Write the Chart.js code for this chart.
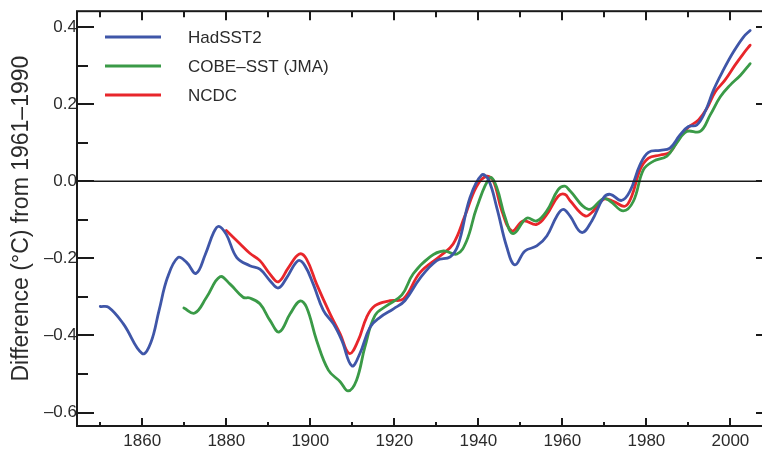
<!DOCTYPE html>
<html>
<head>
<meta charset="utf-8">
<script src="https://cdn.jsdelivr.net/npm/chart.js@4"></script>
<style>
  html, body { margin: 0; padding: 0; background: #fff; overflow: hidden; }
  #wrap { width: 775px; height: 450px; position: relative; }
</style>
</head>
<body>
<div id="wrap"><canvas id="c" width="775" height="450"></canvas></div>
<script>
// ---- Data ----
const seriesNames = ["HadSST2", "COBE\u2013SST (JMA)", "NCDC"];

const hadYears = [1850, 1852, 1855.5, 1860, 1862, 1864, 1866, 1868.5, 1870.5, 1872.8, 1875, 1877, 1878.2, 1880, 1882.5, 1885.6, 1888, 1890.4, 1892.4, 1894.4, 1897.1, 1898.7, 1900.7, 1903.1, 1905.5, 1907.5, 1909.9, 1911.8, 1914.2, 1916.6, 1919.8, 1922.5, 1926.1, 1930.1, 1933.3, 1935.2, 1938, 1940.8, 1942.4, 1944.4, 1946.8, 1948.7, 1951.1, 1953.9, 1956.3, 1958.7, 1960.2, 1961.8, 1964.6, 1967, 1969.8, 1971.4, 1974.1, 1976.1, 1978.5, 1980.5, 1983.3, 1985.6, 1988, 1990, 1992, 1994, 1996, 1998.3, 2000.7, 2003.1, 2004.7];
const hadValues = [-0.325, -0.327, -0.37, -0.447, -0.42, -0.335, -0.25, -0.198, -0.21, -0.239, -0.19, -0.133, -0.117, -0.138, -0.198, -0.219, -0.228, -0.258, -0.277, -0.25, -0.206, -0.219, -0.267, -0.335, -0.37, -0.413, -0.479, -0.447, -0.379, -0.353, -0.331, -0.31, -0.252, -0.206, -0.196, -0.165, -0.043, 0.016, 0.004, -0.069, -0.172, -0.217, -0.181, -0.168, -0.142, -0.09, -0.073, -0.09, -0.133, -0.103, -0.043, -0.034, -0.05, -0.026, 0.043, 0.075, 0.08, 0.086, 0.12, 0.142, 0.146, 0.181, 0.237, 0.288, 0.335, 0.374, 0.391];

const cobeYears = [1869.9, 1872.5, 1875.3, 1878.5, 1880.9, 1884, 1885.6, 1888, 1890.4, 1892.6, 1895.2, 1897.5, 1899.1, 1901.5, 1904.3, 1907.1, 1909, 1911, 1913, 1915.4, 1918.2, 1921.8, 1924.5, 1928.5, 1931.7, 1934.9, 1937.2, 1939.6, 1942.8, 1944.4, 1946.4, 1948.3, 1951.5, 1953.9, 1956.3, 1959, 1960.6, 1961.8, 1966.2, 1969.8, 1971.4, 1974.5, 1976.9, 1979.3, 1981.7, 1984.9, 1987.2, 1989.6, 1992.8, 1995.2, 1997.6, 2000, 2002.4, 2004.7];
const cobeValues = [-0.329, -0.342, -0.301, -0.248, -0.267, -0.301, -0.303, -0.318, -0.361, -0.391, -0.344, -0.311, -0.327, -0.413, -0.49, -0.52, -0.544, -0.516, -0.43, -0.348, -0.323, -0.295, -0.24, -0.196, -0.181, -0.189, -0.155, -0.069, 0.009, -0.017, -0.095, -0.136, -0.096, -0.103, -0.077, -0.022, -0.013, -0.025, -0.073, -0.045, -0.052, -0.077, -0.052, 0.03, 0.052, 0.065, 0.099, 0.129, 0.129, 0.172, 0.219, 0.25, 0.275, 0.305];

const ncdcYears = [1880, 1883.3, 1885.6, 1888, 1890.4, 1892.4, 1894.8, 1897.4, 1899.1, 1901.5, 1904.7, 1907.1, 1909.3, 1911.4, 1913.4, 1915.4, 1919, 1922.2, 1926.1, 1930.9, 1934, 1936.8, 1939.6, 1942, 1943.6, 1945.6, 1948, 1950.7, 1953.9, 1956.3, 1959, 1960.6, 1961.8, 1965.4, 1967.4, 1969.8, 1972.1, 1974.9, 1976.5, 1978.5, 1980.5, 1983.3, 1985.6, 1988, 1990, 1992.4, 1994.4, 1996.4, 1998.7, 2001.1, 2003.1, 2004.7];
const ncdcValues = [-0.128, -0.163, -0.187, -0.206, -0.241, -0.261, -0.224, -0.189, -0.202, -0.267, -0.344, -0.396, -0.447, -0.413, -0.353, -0.323, -0.31, -0.305, -0.237, -0.194, -0.163, -0.09, -0.013, 0.013, 0, -0.077, -0.129, -0.103, -0.112, -0.086, -0.039, -0.034, -0.05, -0.09, -0.077, -0.047, -0.052, -0.065, -0.039, 0.03, 0.06, 0.068, 0.075, 0.116, 0.14, 0.159, 0.189, 0.232, 0.262, 0.301, 0.331, 0.353];

const xTickYears = [1850, 1860, 1870, 1880, 1890, 1900, 1910, 1920, 1930, 1940, 1950, 1960, 1970, 1980, 1990, 2000];
const xLabelYears = [1860, 1880, 1900, 1920, 1940, 1960, 1980, 2000];
const yTickValues = [-0.6, -0.5, -0.4, -0.3, -0.2, -0.1, 0.0, 0.1, 0.2, 0.3, 0.4];
const yLabelValues = [-0.6, -0.4, -0.2, 0.0, 0.2, 0.4];

// ---- styling ----
const FONT = "'Liberation Sans', Arial, Helvetica, sans-serif";
const TEXT = '#2b2b2b';
const colors = ['#3f56a8', '#3a9a47', '#e8262b'];

function pts(xs, ys) { return xs.map((x, i) => ({ x: x, y: ys[i] })); }

const near = (a, b) => Math.abs(a - b) < 1e-6;

const framePlugin = {
  id: 'frame',
  afterDatasetsDraw(chart) {
    const { ctx, chartArea: a, scales: { x, y } } = chart;
    ctx.save();
    ctx.strokeStyle = '#1a1a1a';
    // zero line
    ctx.lineWidth = 1.5;
    const y0 = Math.round(y.getPixelForValue(0)) + 0.25;
    ctx.beginPath(); ctx.moveTo(a.left, y0); ctx.lineTo(a.right, y0); ctx.stroke();
    // frame
    ctx.lineWidth = 2;
    ctx.strokeRect(a.left - 1, a.top, a.right - a.left + 1, a.bottom - a.top);
    // y ticks (inward)
    ctx.lineWidth = 2;
    yTickValues.forEach(v => {
      const p = Math.round(y.getPixelForValue(v));
      const major = yLabelValues.some(l => near(l, v));
      const len = major ? 16 : 10;
      ctx.beginPath(); ctx.moveTo(a.left, p); ctx.lineTo(a.left + len, p); ctx.stroke();
      ctx.beginPath(); ctx.moveTo(a.right, p); ctx.lineTo(a.right - len, p); ctx.stroke();
    });
    // x ticks (inward, bottom and top)
    xTickYears.forEach(v => {
      const p = Math.round(x.getPixelForValue(v));
      const major = xLabelYears.includes(v);
      ctx.beginPath(); ctx.moveTo(p, a.bottom); ctx.lineTo(p, a.bottom - (major ? 8 : 4)); ctx.stroke();
      ctx.beginPath(); ctx.moveTo(p, a.top); ctx.lineTo(p, a.top + (major ? 9 : 6)); ctx.stroke();
    });
    // legend
    ctx.font = '17px ' + FONT;
    ctx.textBaseline = 'middle';
    ctx.textAlign = 'left';
    ctx.fillStyle = TEXT;
    const rows = [37, 66, 95];
    [0, 1, 2].forEach((di, k) => {
      const ds = chart.data.datasets[di];
      ctx.strokeStyle = ds.borderColor;
      ctx.lineWidth = 3;
      ctx.beginPath(); ctx.moveTo(105, rows[k]); ctx.lineTo(161, rows[k]); ctx.stroke();
      ctx.fillText(ds.label, 188, rows[k] + 1);
    });
    ctx.restore();
  }
};

new Chart(document.getElementById('c'), {
  type: 'line',
  data: {
    datasets: [
      { label: seriesNames[0], data: pts(hadYears, hadValues), borderColor: colors[0] },
      { label: seriesNames[1], data: pts(cobeYears, cobeValues), borderColor: colors[1] },
      { label: seriesNames[2], data: pts(ncdcYears, ncdcValues), borderColor: colors[2] }
    ]
  },
  options: {
    responsive: false,
    animation: false,
    parsing: false,
    layout: { padding: { top: 9, right: 3, left: 0, bottom: 0 } },
    elements: {
      point: { radius: 0 },
      line: { borderWidth: 2.8, tension: 0.4, fill: false, borderCapStyle: 'round', borderJoinStyle: 'round' }
    },
    plugins: { legend: { display: false }, tooltip: { enabled: false } },
    scales: {
      x: {
        type: 'linear',
        min: 1844.7,
        max: 2009.9,
        afterFit(s) { s.height = 24; },
        afterBuildTicks(s) { s.ticks = xLabelYears.map(v => ({ value: v })); },
        grid: { display: false, drawTicks: false },
        border: { display: false },
        ticks: {
          autoSkip: false, maxRotation: 0, padding: 5,
          color: TEXT, font: { family: FONT, size: 17 },
          callback: v => String(v)
        }
      },
      y: {
        type: 'linear',
        min: -0.635,
        max: 0.441,
        afterFit(s) { s.width = 78; },
        afterBuildTicks(s) { s.ticks = yLabelValues.map(v => ({ value: v })); },
        grid: { display: false, drawTicks: false },
        border: { display: false },
        ticks: {
          autoSkip: false, padding: 1,
          color: TEXT, font: { family: FONT, size: 17 },
          callback: v => (v < -1e-9 ? '\u2013' : '') + Math.abs(v).toFixed(1)
        },
        title: {
          display: true,
          text: 'Difference (\u00B0C) from 1961\u20131990',
          color: TEXT,
          font: { family: FONT, size: 23 },
          padding: { top: 8, bottom: 0 }
        }
      }
    }
  },
  plugins: [framePlugin]
});
</script>
</body>
</html>
